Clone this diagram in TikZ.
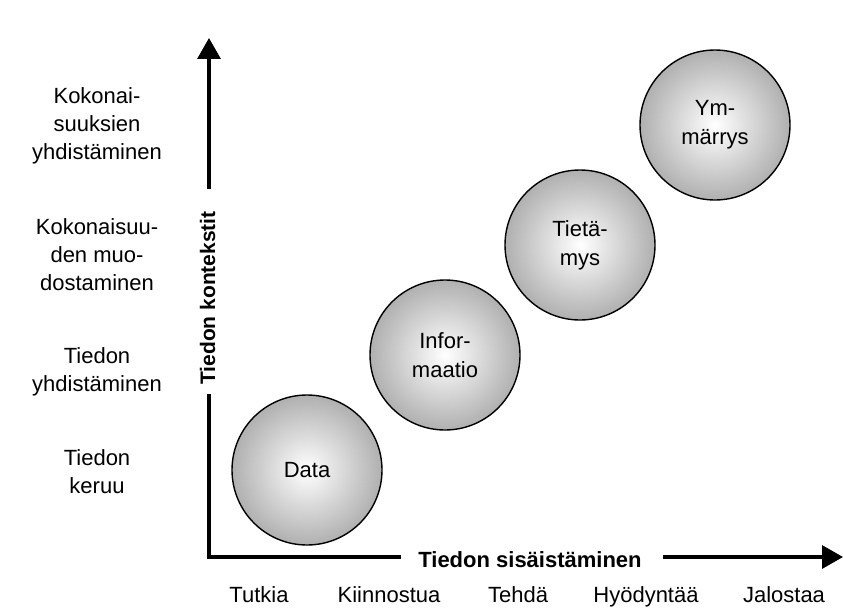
\documentclass[tikz,border=0pt]{standalone}
\usepackage{fontspec}
\setmainfont{Liberation Sans}
\usetikzlibrary{arrows.meta}
\begin{document}
\begin{tikzpicture}[x=1pt,y=-1pt,
  lbl/.style={font=\fontsize{22}{28}\selectfont,align=center,inner sep=0pt},
  axlbl/.style={font=\fontsize{22}{26}\selectfont\bfseries,inner sep=0pt,anchor=base},
  ball/.style={circle,draw=black,line width=1.4pt,minimum size=150pt,inner sep=0pt,
    inner color=white,outer color=black!31,align=center,font=\fontsize{22}{29}\selectfont},
  axis/.style={line width=3.2pt},
  arr/.style={line width=3.2pt,-{Triangle[width=23pt,length=21pt]}}]
\useasboundingbox (0,0) rectangle (843,610);
% axes
\coordinate (O) at (209,557);
\coordinate (ytop) at (209,38);
\coordinate (xend) at (843,557);
\coordinate (yb1) at (209,396);
\coordinate (yb2) at (209,189);
\coordinate (xb1) at (399,557);
\coordinate (xb2) at (663,557);
\draw[axis,line cap=rect] (yb1) -- (O) -- (xb1);
\draw[arr] (yb2) -- (ytop);
\draw[arr] (xb2) -- (xend);
\node[axlbl,rotate=90,font=\fontsize{21}{25}\selectfont\bfseries] (ylab) at (215,298) {Tiedon kontekstit};
\node[axlbl] (xlab) at (530,567) {Tiedon sisäistäminen};
% balls
\node[ball] (data) at (307,470) {Data};
\node[ball] (info) at (445,355) {Infor-\\maatio};
\node[ball] (tiet) at (580,245) {Tietä-\\mys};
\node[ball] (ymm) at (715,125) {Ym-\\märrys};
% left labels
\node[lbl] (l1) at (97,126) {Kokonai-\\suuksien\\yhdistäminen};
\node[lbl] (l2) at (97,255) {Kokonaisuu-\\den muo-\\dostaminen};
\node[lbl] (l3) at (97,372) {Tiedon\\yhdistäminen};
\node[lbl] (l4) at (97,472) {Tiedon\\keruu};
% bottom labels
\node[lbl,anchor=base] (b1) at (259,602) {Tutkia};
\node[lbl,anchor=base] (b2) at (389,602) {Kiinnostua};
\node[lbl,anchor=base] (b3) at (518,602) {Tehdä};
\node[lbl,anchor=base] (b4) at (646,602) {Hyödyntää};
\node[lbl,anchor=base] (b5) at (784,602) {Jalostaa};
\end{tikzpicture}
\end{document}
